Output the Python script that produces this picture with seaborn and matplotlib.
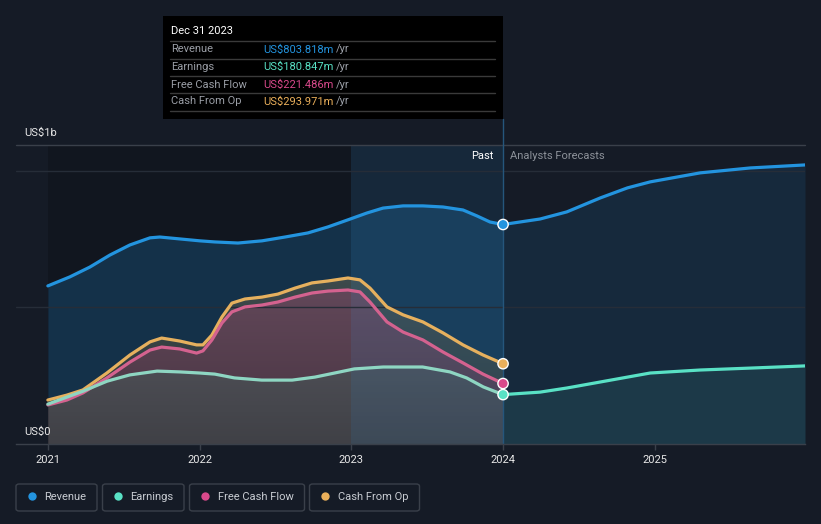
import numpy as np
import pandas as pd
import matplotlib
matplotlib.use("Agg")
import matplotlib.pyplot as plt
import seaborn as sns
from matplotlib.patches import FancyBboxPatch, Rectangle
from matplotlib.lines import Line2D

# ---------------- data (US$ millions, decimal years) ----------------
rev_past_x = [2021.000, 2021.145, 2021.277, 2021.409, 2021.541, 2021.673, 2021.738, 2021.870,
              2022.002, 2022.100, 2022.253, 2022.411, 2022.563, 2022.714, 2022.846, 2022.978,
              2023.103, 2023.209, 2023.341, 2023.472, 2023.604, 2023.736, 2023.829, 2023.914, 2024.000]
rev_past = [579, 612, 648, 692, 729, 755, 758, 751,
            744, 740, 736, 744, 758, 773, 795, 821,
            846, 864, 872, 872, 868, 857, 835, 813, 803.818]
rev_fc_x = [2024.0, 2024.244, 2024.42, 2024.64, 2024.82, 2024.97, 2025.30, 2025.63, 2025.99]
rev_fc = [803.818, 824, 850, 901, 938, 960, 993, 1011, 1022]

earn_past_x = [2021.00, 2021.23, 2021.39, 2021.54, 2021.72, 2021.87, 2022.00, 2022.10, 2022.23, 2022.41,
               2022.61, 2022.76, 2022.89, 2023.02, 2023.21, 2023.47, 2023.65, 2023.76, 2023.87, 2024.00]
earn_past = [146, 193, 230, 253, 267, 264, 260, 256, 242, 234,
             234, 245, 260, 275, 282, 282, 264, 242, 209, 180.847]
earn_fc_x = [2024.0, 2024.244, 2024.42, 2024.64, 2024.97, 2025.30, 2025.63, 2025.99]
earn_fc = [180.847, 190, 205, 227, 260, 271, 278, 286]

cf_x = [2021.000, 2021.125, 2021.231, 2021.389, 2021.541, 2021.673, 2021.750, 2021.870, 2021.980,
        2022.022, 2022.081, 2022.147, 2022.213, 2022.299, 2022.411, 2022.516, 2022.629, 2022.741,
        2022.846, 2022.978, 2023.057, 2023.123, 2023.235, 2023.341, 2023.472, 2023.604, 2023.736,
        2023.868, 2024.000]
fcf = [143, 161, 187, 242, 300, 344, 355, 348, 333,
       341, 381, 443, 484, 502, 509, 520, 538, 553,
       560, 564, 557, 520, 447, 410, 381, 337, 297,
       256, 221.486]
cfo = [161, 179, 198, 260, 326, 374, 388, 377, 363,
       363, 399, 465, 516, 531, 538, 549, 571, 590,
       597, 608, 601, 571, 502, 473, 447, 407, 363,
       326, 293.971]

series_names = ["Revenue", "Earnings", "Free Cash Flow", "Cash From Op"]
tooltip_values = [803.818, 180.847, 221.486, 293.971]
tooltip_labels = ["US$803.818m", "US$180.847m", "US$221.486m", "US$293.971m"]
tooltip_date = "Dec 31 2023"
year_ticks = [2021, 2022, 2023, 2024, 2025]
year_labels = ["2021", "2022", "2023", "2024", "2025"]

# ---------------- style ----------------
BG = "#151b26"
BLUE = "#2394df"
TEAL = "#59e1c5"
PINK = "#d9498b"
ORANGE = "#eaaf5a"
colors = [BLUE, TEAL, PINK, ORANGE]

sns.set_theme(style="dark")
plt.rcParams["font.family"] = ["Roboto", "DejaVu Sans"]

W, H = 821, 524
fig = plt.figure(figsize=(W / 100, H / 100), dpi=100, facecolor=BG)


def fx(x):
    return x / W


def fy(y):
    return 1 - y / H


ax = fig.add_axes([16 / W, 80 / H, 789 / W, 299 / H])
ax.set_facecolor("none")
XMIN, XMAX, YMAX = 2020.79, 2025.99, 1095
ax.set_xlim(XMIN, XMAX)
ax.set_ylim(0, YMAX)
ax.grid(False)

# background regions
ax.axvspan(2021.0, 2023.0, color="black", alpha=0.18, lw=0, zorder=0)

# fills
ax.fill_between(rev_past_x, rev_past, 0, color=BLUE, alpha=0.22, lw=0, zorder=1)
ax.fill_between(rev_fc_x, rev_fc, 0, color=BLUE, alpha=0.12, lw=0, zorder=1)
cfo_poly = ax.fill_between(cf_x, cfo, 0, color=ORANGE, alpha=0.2, lw=0, zorder=1.1)
ax.fill_between(cf_x, fcf, 0, color=PINK, alpha=0.25, lw=0, zorder=1.2)
ax.fill_between(earn_past_x, earn_past, 0, color="#56696b", alpha=0.6, lw=0, zorder=1.3)
ax.fill_between(earn_fc_x, earn_fc, 0, color=TEAL, alpha=0.09, lw=0, zorder=1.3)

# darkening gradient toward baseline in the past cash-flow area
grad = np.zeros((256, 2, 4))
grad[..., 3] = np.linspace(0, 0.3, 256)[:, None]
im = ax.imshow(grad, extent=(2021.0, 2024.0, 0, 620), origin="upper", aspect="auto",
               zorder=1.4, interpolation="bilinear")
im.set_clip_path(cfo_poly.get_paths()[0], transform=ax.transData)

# 2023-2024 highlight
ax.axvspan(2023.0, 2024.0, color=BLUE, alpha=0.11, lw=0, zorder=1.5)

# grid / frame lines
for yv in [500, 1000]:
    ax.axhline(yv, color="#262d38", lw=1, zorder=1.6)
ax.axhline(YMAX, color="#3a404a", lw=1, zorder=1.6, clip_on=False)
for s in ["top", "right", "left"]:
    ax.spines[s].set_visible(False)
ax.spines["bottom"].set_color("#3a404a")
ax.spines["bottom"].set_linewidth(1)

# divider line at 2024
ax.axvline(2024.0, ymin=0, ymax=(444 - 119) / 299, color="#25567c", lw=1, zorder=1.7, clip_on=False)

# lines
df_lines = [
    (rev_past_x, rev_past, BLUE),
    (rev_fc_x, rev_fc, BLUE),
    (cf_x, cfo, "#e6b05e"),
    (cf_x, fcf, "#d4628f"),
    (earn_past_x, earn_past, "#8ed6c2"),
    (earn_fc_x, earn_fc, TEAL),
]
for xs, ys, c in df_lines:
    d = pd.DataFrame({"x": xs, "y": ys})
    sns.lineplot(data=d, x="x", y="y", ax=ax, color=c, lw=2.3, errorbar=None, zorder=3)

# markers at Dec 31 2023
mk = pd.DataFrame({"x": [2024.0] * 4, "y": tooltip_values, "s": series_names})
sns.scatterplot(data=mk, x="x", y="y", hue="s", palette=dict(zip(series_names, colors)),
                s=55, edgecolor="white", linewidth=1, ax=ax, zorder=5, legend=False)

ax.set_xlabel("")
ax.set_ylabel("")
ax.set_xticks(year_ticks)
ax.set_xticklabels(year_labels)
ax.set_yticks([])
ax.tick_params(axis="x", length=4, width=1, color="#3a404a", labelcolor="#e8e8e8",
               labelsize=8, pad=4, bottom=True)
ax.set_xlim(XMIN, XMAX)
ax.set_ylim(0, YMAX)

# axis value labels
fig.text(fx(24), fy(133), "US$1b", color="#e8e8e8", fontsize=8, va="center", ha="left")
fig.text(fx(24), fy(432), "US$0", color="#e8e8e8", fontsize=8, va="center", ha="left")

# Past / forecast labels
fig.text(fx(493), fy(156), "Past", color="#ffffff", fontsize=8, va="center", ha="right")
fig.text(fx(510), fy(156), "Analysts Forecasts", color="#8c9199", fontsize=8, va="center", ha="left")

# tooltip
fig.patches.append(Rectangle((fx(163), fy(119)), fx(503) - fx(163), fy(16) - fy(119),
                             transform=fig.transFigure, facecolor="black", edgecolor="none", zorder=10))
fig.text(fx(171), fy(31), tooltip_date, color="#ffffff", fontsize=8, va="center", ha="left", zorder=11)
for yy in [41, 58.5, 76, 93, 111]:
    fig.lines.append(Line2D([fx(170), fx(495)], [fy(yy), fy(yy)], transform=fig.transFigure,
                            color="#3a3a3a", lw=1, zorder=11))
row_y = [49.5, 67, 84.5, 101.5]
for name, val, c, yy in zip(series_names, tooltip_labels, colors, row_y):
    fig.text(fx(171), fy(yy), name, color="#9a9ea6", fontsize=8, va="center", ha="left", zorder=11)
    fig.text(fx(263), fy(yy), val, color=c, fontsize=8, va="center", ha="left", zorder=11)
    fig.text(fx(336), fy(yy), "/yr", color="#9a9ea6", fontsize=8, va="center", ha="left", zorder=11)

# legend boxes
boxes = [(16, 97), (102.5, 184), (189.5, 304.5), (309.5, 419.5)]
for (x0, x1), name, c in zip(boxes, series_names, colors):
    fig.patches.append(FancyBboxPatch((fx(x0), fy(511)), fx(x1) - fx(x0), fy(484) - fy(511),
                                      boxstyle="round,pad=0,rounding_size=0.004",
                                      transform=fig.transFigure, facecolor="none",
                                      edgecolor="#3a404a", lw=1))
    fig.lines.append(Line2D([fx(x0 + 15.5)], [fy(496)], transform=fig.transFigure, marker="o",
                            markersize=6, color=c, markeredgewidth=0))
    fig.text(fx(x0 + 28), fy(496.5), name, color="#c8ccd2", fontsize=8, va="center", ha="left")

fig.savefig("out.png", dpi=100, facecolor=BG)
